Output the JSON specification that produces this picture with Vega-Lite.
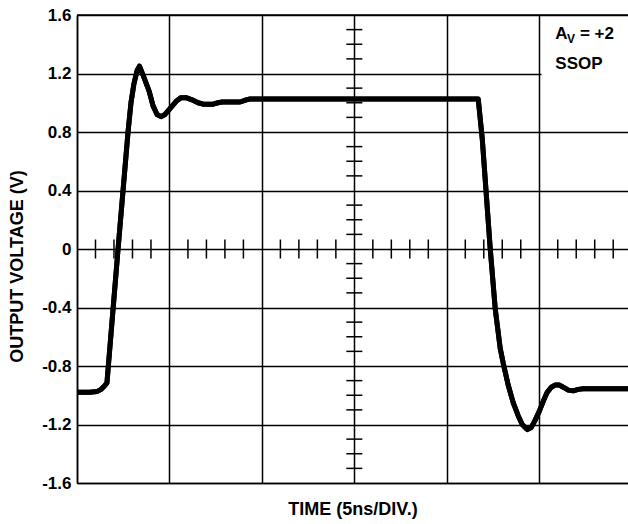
{
  "$schema": "https://vega.github.io/schema/vega-lite/v6.json",
  "autosize": "none",
  "width": 551,
  "height": 468,
  "padding": {"left": 77, "top": 15, "right": 0, "bottom": 41},
  "background": "white",
  "config": {
    "view": {"stroke": null},
    "font": "Liberation Sans",
    "axis": {"gridColor": "#000", "gridWidth": 1.5, "gridOpacity": 1, "domainColor": "#000", "domainWidth": 1.5}
  },
  "datasets": {
    "one": [{}],
    "curve": [
      {"t": 0, "v": -0.98}, {"t": 0.7, "v": -0.98}, {"t": 1.08, "v": -0.975}, {"t": 1.3, "v": -0.96},
      {"t": 1.46, "v": -0.94}, {"t": 1.62, "v": -0.915}, {"t": 2.22, "v": 0.0}, {"t": 2.76, "v": 0.8},
      {"t": 2.92, "v": 1.0}, {"t": 3.08, "v": 1.13}, {"t": 3.25, "v": 1.22}, {"t": 3.38, "v": 1.25},
      {"t": 3.63, "v": 1.17}, {"t": 3.9, "v": 1.08}, {"t": 4.11, "v": 0.98}, {"t": 4.33, "v": 0.92},
      {"t": 4.55, "v": 0.905}, {"t": 4.76, "v": 0.92}, {"t": 5.03, "v": 0.96}, {"t": 5.36, "v": 1.01},
      {"t": 5.63, "v": 1.035}, {"t": 5.9, "v": 1.035}, {"t": 6.22, "v": 1.02}, {"t": 6.55, "v": 1.0},
      {"t": 6.82, "v": 0.99}, {"t": 7.36, "v": 0.99}, {"t": 7.63, "v": 1.0}, {"t": 7.85, "v": 1.005},
      {"t": 8.82, "v": 1.005}, {"t": 9.15, "v": 1.02}, {"t": 9.36, "v": 1.026}, {"t": 21.7, "v": 1.026},
      {"t": 21.92, "v": 0.75}, {"t": 22.35, "v": 0.0}, {"t": 22.62, "v": -0.41}, {"t": 22.89, "v": -0.68},
      {"t": 23.05, "v": -0.78}, {"t": 23.32, "v": -0.93}, {"t": 23.59, "v": -1.05}, {"t": 23.86, "v": -1.14},
      {"t": 24.08, "v": -1.2}, {"t": 24.35, "v": -1.235}, {"t": 24.57, "v": -1.22}, {"t": 24.78, "v": -1.17},
      {"t": 25.0, "v": -1.11}, {"t": 25.22, "v": -1.04}, {"t": 25.43, "v": -0.98}, {"t": 25.65, "v": -0.945},
      {"t": 25.87, "v": -0.93}, {"t": 26.08, "v": -0.93}, {"t": 26.3, "v": -0.945}, {"t": 26.57, "v": -0.965},
      {"t": 26.84, "v": -0.97}, {"t": 27.11, "v": -0.96}, {"t": 27.38, "v": -0.955}, {"t": 29.8, "v": -0.955}
    ],
    "xticks": [
      {"t": 1}, {"t": 2}, {"t": 3}, {"t": 4}, {"t": 6}, {"t": 7}, {"t": 8}, {"t": 9},
      {"t": 11}, {"t": 12}, {"t": 13}, {"t": 14}, {"t": 16}, {"t": 17}, {"t": 18}, {"t": 19},
      {"t": 21}, {"t": 22}, {"t": 23}, {"t": 24}, {"t": 26}, {"t": 27}, {"t": 28}, {"t": 29}
    ],
    "yticks": [
      {"v": 1.5}, {"v": 1.4}, {"v": 1.3}, {"v": 1.1}, {"v": 1.0}, {"v": 0.9}, {"v": 0.7}, {"v": 0.6}, {"v": 0.5},
      {"v": 0.3}, {"v": 0.2}, {"v": 0.1}, {"v": -0.1}, {"v": -0.2}, {"v": -0.3}, {"v": -0.5}, {"v": -0.6}, {"v": -0.7},
      {"v": -0.9}, {"v": -1.0}, {"v": -1.1}, {"v": -1.3}, {"v": -1.4}, {"v": -1.5}
    ]
  },
  "layer": [
    {
      "data": {"name": "curve"},
      "mark": {"type": "line", "color": "#000", "strokeWidth": 5, "strokeJoin": "round", "strokeCap": "butt", "clip": true},
      "encoding": {
        "x": {
          "field": "t", "type": "quantitative",
          "scale": {"domain": [0, 29.8], "nice": false, "zero": false},
          "axis": {
            "values": [0, 5, 10, 15, 20, 25], "grid": true, "labels": false, "ticks": false,
            "title": "TIME (5ns/DIV.)", "titleFontSize": 18, "titleFontWeight": "bold", "titleColor": "#000", "titlePadding": 17
          }
        },
        "y": {
          "field": "v", "type": "quantitative",
          "scale": {"domain": [-1.6, 1.6], "nice": false, "zero": false},
          "axis": {
            "values": [-1.6, -1.2, -0.8, -0.4, 0, 0.4, 0.8, 1.2, 1.6], "grid": true, "ticks": false,
            "labelExpr": "datum.value == 0 ? '0' : (datum.value < 0 ? '-' : '') + format(abs(datum.value), '.1f')",
            "labelFontSize": 17, "labelFontWeight": "bold", "labelColor": "#000", "labelPadding": 6,
            "title": "OUTPUT VOLTAGE (V)", "titleFontSize": 18, "titleFontWeight": "bold", "titleColor": "#000", "titlePadding": 15,
            "titleY": 251
          }
        }
      }
    },
    {
      "data": {"name": "one"},
      "mark": {"type": "rect", "fill": "white"},
      "encoding": {
        "x": {"datum": 25.12}, "x2": {"datum": 29.8},
        "y": {"datum": 1.12}, "y2": {"datum": 1.55}
      }
    },
    {
      "data": {"name": "one"},
      "mark": {"type": "rule", "color": "#000", "strokeWidth": 1.5},
      "encoding": {"y": {"datum": 1.6}}
    },
    {
      "data": {"name": "xticks"},
      "mark": {"type": "tick", "orient": "vertical", "color": "#000", "size": 19, "thickness": 1.5, "opacity": 1},
      "encoding": {
        "x": {"field": "t", "type": "quantitative"},
        "y": {"datum": 0}
      }
    },
    {
      "data": {"name": "yticks"},
      "mark": {"type": "tick", "orient": "horizontal", "color": "#000", "size": 16, "thickness": 1.5, "opacity": 1},
      "encoding": {
        "y": {"field": "v", "type": "quantitative"},
        "x": {"datum": 15}
      }
    },
    {
      "data": {"name": "curve"},
      "mark": {"type": "line", "color": "#000", "strokeWidth": 5, "strokeJoin": "round", "clip": true},
      "encoding": {
        "x": {"field": "t", "type": "quantitative"},
        "y": {"field": "v", "type": "quantitative"}
      }
    },
    {
      "data": {"name": "one"},
      "mark": {"type": "text", "text": "A", "align": "left", "baseline": "alphabetic", "fontSize": 17, "fontWeight": "bold", "color": "#000"},
      "encoding": {"x": {"datum": 25.87}, "y": {"datum": 1.436}}
    },
    {
      "data": {"name": "one"},
      "mark": {"type": "text", "text": "V", "align": "left", "baseline": "alphabetic", "fontSize": 12, "fontWeight": "bold", "color": "#000"},
      "encoding": {"x": {"datum": 26.5}, "y": {"datum": 1.41}}
    },
    {
      "data": {"name": "one"},
      "mark": {"type": "text", "text": "= +2", "align": "left", "baseline": "alphabetic", "fontSize": 17, "fontWeight": "bold", "color": "#000"},
      "encoding": {"x": {"datum": 27.2}, "y": {"datum": 1.436}}
    },
    {
      "data": {"name": "one"},
      "mark": {"type": "text", "text": "SSOP", "align": "left", "baseline": "alphabetic", "fontSize": 17, "fontWeight": "bold", "color": "#000"},
      "encoding": {"x": {"datum": 25.87}, "y": {"datum": 1.231}}
    }
  ]
}
